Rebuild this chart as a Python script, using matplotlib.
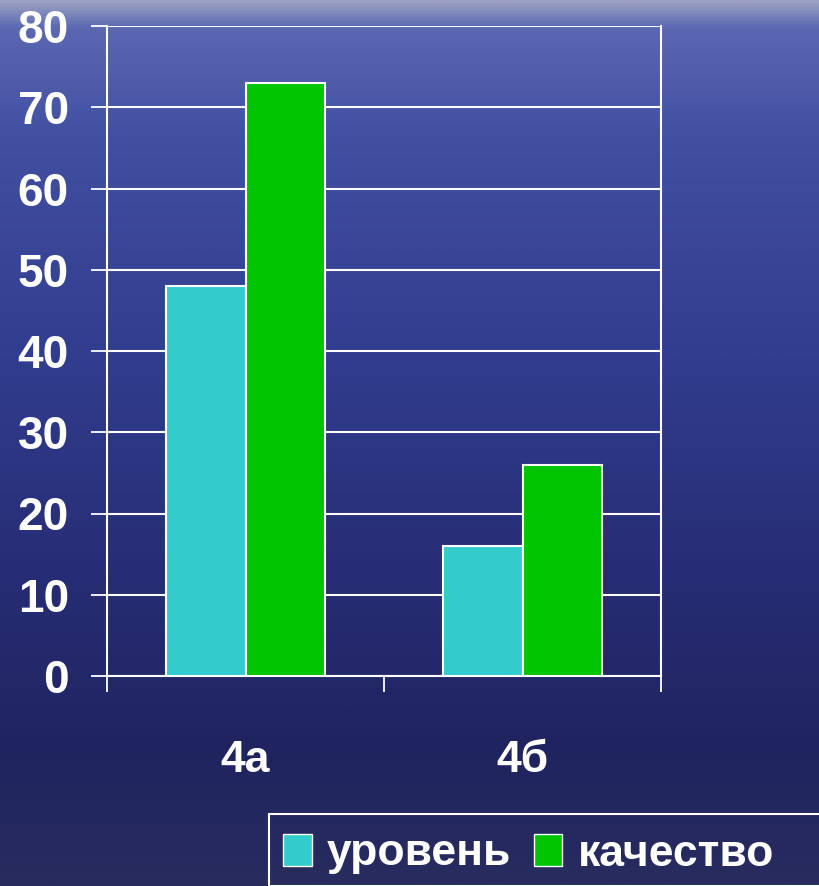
import matplotlib
matplotlib.use("Agg")
import matplotlib.pyplot as plt
import numpy as np
from matplotlib.colors import LinearSegmentedColormap
from matplotlib.patches import Rectangle, Patch

# ============================================================
# DATA
# ============================================================

classes = ["4а", "4б"]
level = [48, 16]
quality = [73, 26]
series_names = ["уровень", "качество"]
y_ticks = [0, 10, 20, 30, 40, 50, 60, 70, 80]

# ============================================================
# STYLE
# ============================================================

plt.rcParams["font.family"] = ["Liberation Sans", "DejaVu Sans"]
plt.rcParams["font.weight"] = "bold"

CYAN = "#33CCCC"
GREEN = "#00C400"
W, H = 819, 886

fig = plt.figure(figsize=(W / 100, H / 100), dpi=100)

# background: sea-like vertical gradient
bg = fig.add_axes([0, 0, 1, 1], zorder=-10)
bg_cmap = LinearSegmentedColormap.from_list(
    "sea",
    [
        (0.00, "#9aa0c2"),
        (0.03, "#5a68b2"),
        (0.15, "#4250a2"),
        (0.40, "#313d8e"),
        (0.65, "#272d74"),
        (0.85, "#1f2460"),
        (1.00, "#282c5e"),
    ],
)
grad = np.linspace(0, 1, 512).reshape(-1, 1)
bg.imshow(grad, aspect="auto", cmap=bg_cmap, extent=[0, 1, 0, 1])
bg.set_axis_off()

# ============================================================
# BAR CHART
# ============================================================

ax = fig.add_axes([107 / W, 1 - 676 / H, (661 - 107) / W, (676 - 26) / H])
ax.set_facecolor("none")

x = np.arange(len(classes))
bw = 0.288

ax.bar(x - bw / 2, level, bw, color=CYAN, edgecolor="white",
       linewidth=1.5, zorder=3)
ax.bar(x + bw / 2, quality, bw, color=GREEN, edgecolor="white",
       linewidth=1.5, zorder=3)

ax.set_xlim(-0.5, len(classes) - 0.5)
ax.set_ylim(0, 80)

ax.set_yticks(y_ticks)
ax.set_yticklabels([str(v) for v in y_ticks])
ax.yaxis.grid(True, color="white", linewidth=1.5, zorder=1)

ax.set_xticks(x)
ax.set_xticklabels(classes)
ax.set_xticks(np.arange(len(classes) + 1) - 0.5, minor=True)

ax.tick_params(axis="y", direction="out", length=11.5, width=1.3,
               color="white", labelcolor="white", labelsize=33, pad=16)
ax.tick_params(axis="x", which="major", length=0, labelcolor="white",
               labelsize=32, pad=46)
ax.tick_params(axis="x", which="minor", direction="out", length=11.5,
               width=1.3, color="white")

for lbl in ax.get_yticklabels() + ax.get_xticklabels():
    lbl.set_fontweight("bold")

for side in ["left", "right", "bottom"]:
    ax.spines[side].set_color("white")
    ax.spines[side].set_linewidth(1.5)
ax.spines["top"].set_visible(False)

# ============================================================
# LEGEND
# ============================================================

fig.patches.append(
    Rectangle((269 / W, 0), 1, 1 - 814 / H, transform=fig.transFigure,
              fill=False, edgecolor="white", linewidth=1.5)
)

handles = [
    Patch(facecolor=CYAN, edgecolor="white", linewidth=1),
    Patch(facecolor=GREEN, edgecolor="white", linewidth=1),
]
leg = fig.legend(
    handles, series_names,
    loc="center left",
    bbox_to_anchor=(283 / W, 1 - 854 / H),
    ncol=2,
    frameon=False,
    fontsize=32,
    handlelength=0.65,
    handleheight=0.72,
    handletextpad=0.34,
    columnspacing=0.5,
    borderpad=0,
    borderaxespad=0,
)
for t in leg.get_texts():
    t.set_color("white")
    t.set_fontweight("bold")

fig.savefig("out.png", dpi=100)
